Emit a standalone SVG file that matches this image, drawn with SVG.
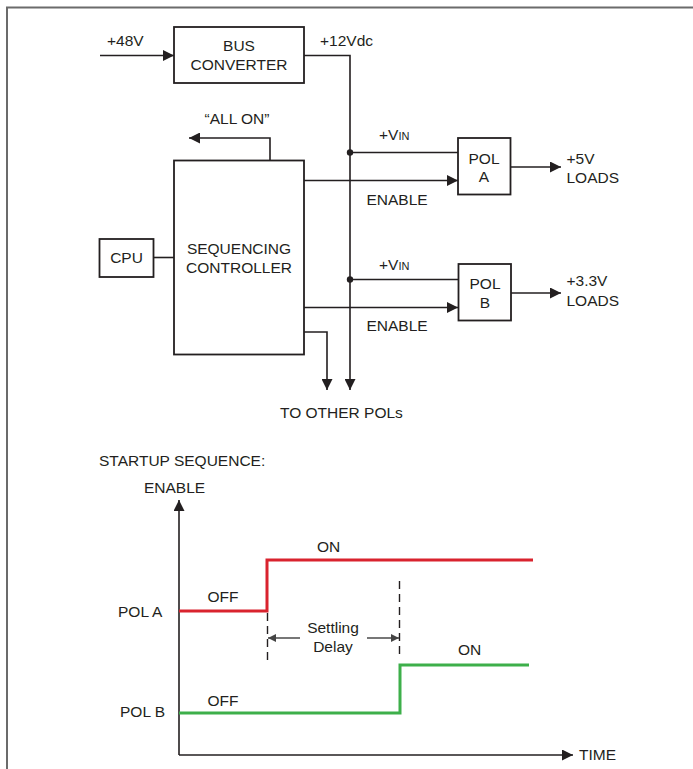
<svg xmlns="http://www.w3.org/2000/svg" width="693" height="769" viewBox="0 0 693 769">
<style>
text{font-family:"Liberation Sans",Arial,sans-serif;font-size:15.5px;fill:#231f20}
.m{text-anchor:middle}
.box{fill:#fff;stroke:#231f20;stroke-width:1.8}
.ln{fill:none;stroke:#231f20;stroke-width:1.6}
.dash{fill:none;stroke:#231f20;stroke-width:1.4;stroke-dasharray:8,5}
.gr{fill:none;stroke:#555;stroke-width:1.6}
.sub{font-size:11px}
</style>
<defs>
<marker id="ah" viewBox="0 0 10 10" refX="10" refY="5" markerWidth="19" markerHeight="11" markerUnits="userSpaceOnUse" orient="auto"><path d="M0,0L10,5L0,10z" fill="#231f20"/></marker>
<marker id="sh" viewBox="0 0 10 10" refX="10" refY="5" markerWidth="11" markerHeight="8" markerUnits="userSpaceOnUse" orient="auto"><path d="M0,0L10,5L0,10z" fill="#444"/></marker>
</defs>
<path d="M7,769V7.5H693" fill="none" stroke="#6b6b6b" stroke-width="2"/>

<g id="connectors">
<line class="ln" x1="100" y1="55.5" x2="174" y2="55.5" marker-end="url(#ah)"/>
<path class="ln" d="M304,55.5H350V390" marker-end="url(#ah)"/>
<path class="ln" d="M270,160V138H189" marker-end="url(#ah)"/>
<line class="ln" x1="153" y1="257.5" x2="174" y2="257.5"/>
<line class="ln" x1="350" y1="152.5" x2="458" y2="152.5"/>
<line class="ln" x1="304" y1="180.5" x2="458" y2="180.5" marker-end="url(#ah)"/>
<line class="ln" x1="510" y1="167" x2="561" y2="167" marker-end="url(#ah)"/>
<line class="ln" x1="350" y1="279.5" x2="458" y2="279.5"/>
<line class="ln" x1="304" y1="307.5" x2="458" y2="307.5" marker-end="url(#ah)"/>
<line class="ln" x1="511" y1="293" x2="561" y2="293" marker-end="url(#ah)"/>
<path class="ln" d="M304,332H327V390" marker-end="url(#ah)"/>
<circle cx="350" cy="152.5" r="3.2" fill="#231f20"/>
<circle cx="350" cy="279.5" r="3.2" fill="#231f20"/>
</g>

<g id="bus-converter">
<rect class="box" x="174" y="27" width="130" height="56"/>
<text class="m" x="239" y="51">BUS</text>
<text class="m" x="239" y="70">CONVERTER</text>
</g>
<g id="sequencing-controller">
<rect class="box" x="174" y="160.5" width="130" height="194"/>
<text class="m" x="239" y="254">SEQUENCING</text>
<text class="m" x="239" y="273">CONTROLLER</text>
</g>
<g id="cpu">
<rect class="box" x="99.5" y="239" width="54" height="38"/>
<text class="m" x="126.5" y="263">CPU</text>
</g>
<g id="pol-a">
<rect class="box" x="458" y="138" width="52.5" height="56.5"/>
<text class="m" x="484" y="163.5">POL</text>
<text class="m" x="484" y="182">A</text>
</g>
<g id="pol-b">
<rect class="box" x="458.5" y="264" width="52.5" height="56.5"/>
<text class="m" x="485" y="289">POL</text>
<text class="m" x="485" y="308">B</text>
</g>

<g id="labels">
<text x="107" y="46">+48V</text>
<text x="320" y="46">+12Vdc</text>
<text class="m" x="237" y="124">“ALL ON”</text>
<text x="379" y="139.5">+V<tspan class="sub">IN</tspan></text>
<text x="379" y="270">+V<tspan class="sub">IN</tspan></text>
<text x="366.5" y="204.5">ENABLE</text>
<text x="366.5" y="331">ENABLE</text>
<text x="566.5" y="163.5">+5V</text>
<text x="566.5" y="183">LOADS</text>
<text x="566.5" y="286">+3.3V</text>
<text x="566.5" y="305.5">LOADS</text>
<text x="280" y="417.5">TO OTHER POLs</text>
</g>

<g id="timing">
<text x="99" y="466">STARTUP SEQUENCE:</text>
<text x="144" y="492.5">ENABLE</text>
<path class="ln" d="M179,755V500" marker-end="url(#ah)"/>
<path class="ln" d="M179,755H573" marker-end="url(#ah)"/>
<text x="579" y="760">TIME</text>
<text x="118" y="617">POL A</text>
<text x="120" y="717">POL B</text>
<path d="M179,611H267V560H533" fill="none" stroke="#d9232e" stroke-width="3"/>
<path d="M179,713H400V665H529" fill="none" stroke="#3daf4a" stroke-width="3"/>
<text x="207.5" y="602">OFF</text>
<text x="317" y="552">ON</text>
<text x="207.5" y="706">OFF</text>
<text x="458" y="655">ON</text>
<line class="dash" x1="267.5" y1="613" x2="267.5" y2="663"/>
<line class="dash" x1="399.5" y1="581" x2="399.5" y2="657"/>
<line class="gr" x1="300" y1="638" x2="268" y2="638" marker-end="url(#sh)"/>
<line class="gr" x1="367" y1="638" x2="399" y2="638" marker-end="url(#sh)"/>
<text class="m" x="333" y="632.5">Settling</text>
<text class="m" x="333" y="651.5">Delay</text>
</g>
</svg>
